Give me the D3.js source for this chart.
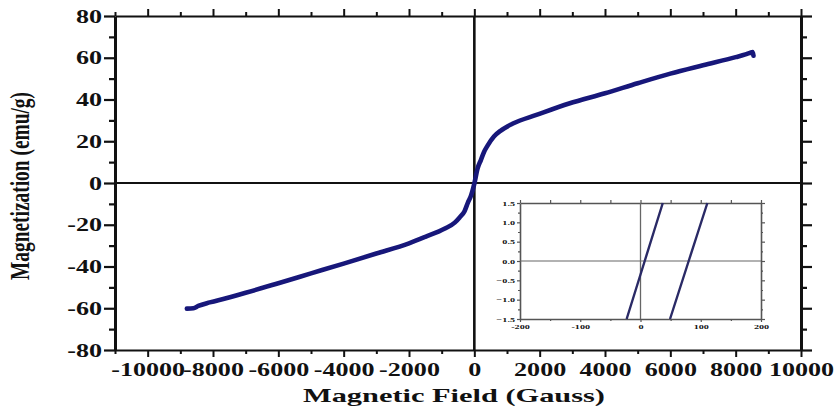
<!DOCTYPE html>
<html>
<head>
<meta charset="utf-8">
<script src="https://cdn.jsdelivr.net/npm/d3@7"></script>
<style>
  html, body { margin: 0; padding: 0; background: #fff; }
  svg { display: block; }
  text { font-family: "Liberation Serif", "Times New Roman", serif; font-weight: bold; fill: #111; }
</style>
</head>
<body>
<svg id="chart" width="835" height="410"></svg>
<script>
// Hysteresis loop M(H): field in Gauss, magnetization in emu/g
const field = [-8800, -8600, -8450, -8100, -7600, -7000, -6000, -5000, -4000, -3000, -2000, -1500,
  -900, -600, -450, -300, -200, -100, 0, 100, 200, 300, 400, 600, 800, 1200, 1900, 2900,
  4000, 5000, 6000, 7000, 8000, 8300, 8450, 8520, 8545];
const magnetization = [-60.2, -60.0, -58.9, -57.2, -55.2, -52.6, -48.0, -43.3, -38.6, -33.8, -28.9, -25.8,
  -21.8, -19.0, -16.5, -13.5, -9.5, -6.0, -0.3, 7.0, 11.0, 15.0, 17.8, 22.3, 25.0, 28.6, 32.6, 38.1,
  43.0, 47.8, 52.4, 56.4, 60.3, 61.6, 62.4, 62.7, 61.0];

// Low-field detail (inset): the two branches of the loop near the origin
const insetFieldA = [-23, -8, 7, 22, 37];
const insetMagA = [-1.5, -0.75, 0, 0.75, 1.5];
const insetFieldB = [49, 64.5, 80, 95.5, 111];
const insetMagB = [-1.5, -0.75, 0, 0.75, 1.5];

// Tick values
const xMajorTicks = [-10000, -8000, -6000, -4000, -2000, 0, 2000, 4000, 6000, 8000, 10000];
const xMinorTicks = [-11000, -9000, -7000, -5000, -3000, -1000, 1000, 3000, 5000, 7000, 9000];
const yMajorTicks = [-80, -60, -40, -20, 0, 20, 40, 60, 80];
const yMinorTicks = [-70, -50, -30, -10, 10, 30, 50, 70];
const insetXTicks = [-200, -100, 0, 100, 200];
const insetXMinor = [-150, -50, 50, 150];
const insetYTicks = [-1.5, -1.0, -0.5, 0.0, 0.5, 1.0, 1.5];
const insetYMinor = [-1.25, -0.75, -0.25, 0.25, 0.75, 1.25];

const xTitle = "Magnetic Field (Gauss)";
const yTitle = "Magnetization (emu/g)";

const svg = d3.select("#chart");
const STRETCH = 1.45;        // wide lettering
const lineColor = "#17177a";

const plot = { left: 115, right: 801, top: 16, bottom: 350 };
const x = d3.scaleLinear().domain([-11000, 10000]).range([plot.left, plot.right]);
const y = d3.scaleLinear().domain([-80, 80]).range([plot.bottom, plot.top]);

// ---------- axes with ticks on all four sides ----------
function styleAxis(g, width) {
  g.select(".domain").attr("stroke", "#111").attr("stroke-width", width);
  g.selectAll(".tick line").attr("stroke", "#111").attr("stroke-width", 2);
}
const fmt = d => String(d);

// bottom
const gB = svg.append("g").attr("transform", `translate(0,${plot.bottom})`)
  .call(d3.axisBottom(x).tickValues(xMajorTicks).tickSize(7).tickPadding(4).tickFormat(fmt).tickSizeOuter(0));
styleAxis(gB, 2.2);
gB.selectAll(".tick text")
  .attr("font-size", 18).attr("y", 26).attr("dy", 0)
  .attr("transform", `scale(${STRETCH},1)`)
  .style("font-family", '"Liberation Serif", serif').style("font-weight", "bold").attr("fill", "#111");
svg.append("g").attr("transform", `translate(0,${plot.bottom})`)
  .call(d3.axisBottom(x).tickValues(xMinorTicks).tickSize(4).tickFormat("").tickSizeOuter(0))
  .call(g => { g.select(".domain").remove(); g.selectAll("line").attr("stroke", "#111").attr("stroke-width", 2); });

// top
const gT = svg.append("g").attr("transform", `translate(0,${plot.top})`)
  .call(d3.axisTop(x).tickValues(xMajorTicks).tickSize(7).tickFormat("").tickSizeOuter(0));
styleAxis(gT, 2);
svg.append("g").attr("transform", `translate(0,${plot.top})`)
  .call(d3.axisTop(x).tickValues(xMinorTicks).tickSize(4).tickFormat("").tickSizeOuter(0))
  .call(g => { g.select(".domain").remove(); g.selectAll("line").attr("stroke", "#111").attr("stroke-width", 2); });

// left
const gL = svg.append("g").attr("transform", `translate(${plot.left},0)`)
  .call(d3.axisLeft(y).tickValues(yMajorTicks).tickSize(11).tickFormat(fmt).tickSizeOuter(0));
styleAxis(gL, 3);
gL.selectAll(".tick line").attr("stroke-width", 2.2);
gL.selectAll(".tick text")
  .attr("font-size", 18).attr("x", -13 / STRETCH).attr("dy", "0.34em")
  .attr("transform", `scale(${STRETCH},1)`)
  .style("font-family", '"Liberation Serif", serif').style("font-weight", "bold").attr("fill", "#111");
svg.append("g").attr("transform", `translate(${plot.left},0)`)
  .call(d3.axisLeft(y).tickValues(yMinorTicks).tickSize(6).tickFormat("").tickSizeOuter(0))
  .call(g => { g.select(".domain").remove(); g.selectAll("line").attr("stroke", "#111").attr("stroke-width", 2.2); });

// right
const gR = svg.append("g").attr("transform", `translate(${plot.right},0)`)
  .call(d3.axisRight(y).tickValues(yMajorTicks).tickSize(11).tickFormat("").tickSizeOuter(0));
styleAxis(gR, 3);
gR.selectAll(".tick line").attr("stroke-width", 2.2);
svg.append("g").attr("transform", `translate(${plot.right},0)`)
  .call(d3.axisRight(y).tickValues(yMinorTicks).tickSize(6).tickFormat("").tickSizeOuter(0))
  .call(g => { g.select(".domain").remove(); g.selectAll("line").attr("stroke", "#111").attr("stroke-width", 2.2); });

// zero lines
svg.append("line").attr("x1", x(0)).attr("x2", x(0)).attr("y1", plot.top).attr("y2", plot.bottom)
  .attr("stroke", "#111").attr("stroke-width", 2.6);
svg.append("line").attr("x1", plot.left).attr("x2", plot.right).attr("y1", y(0)).attr("y2", y(0))
  .attr("stroke", "#111").attr("stroke-width", 1.8);

// ---------- loop ----------
const loop = d3.zip(field, magnetization);
const line = d3.line().x(d => x(d[0])).y(d => y(d[1])).curve(d3.curveMonotoneX);
svg.append("path").datum(loop).attr("d", line)
  .attr("fill", "none").attr("stroke", lineColor).attr("stroke-width", 4.6)
  .attr("stroke-linejoin", "round").attr("stroke-linecap", "round");

// ---------- axis titles ----------
svg.append("text").text(xTitle)
  .attr("x", 454).attr("y", 402).attr("text-anchor", "middle")
  .attr("font-size", 19.5).attr("textLength", 302).attr("lengthAdjust", "spacingAndGlyphs");
svg.append("text").text(yTitle)
  .attr("transform", "translate(29,186) rotate(-90) scale(1,1.4)")
  .attr("text-anchor", "middle").attr("font-size", 19.5)
  .attr("textLength", 188).attr("lengthAdjust", "spacingAndGlyphs");

// ---------- inset ----------
const inset = { left: 520, right: 761, top: 203, bottom: 319 };
const ix = d3.scaleLinear().domain([-200, 200]).range([inset.left, inset.right]);
const iy = d3.scaleLinear().domain([-1.5, 1.5]).range([inset.bottom, inset.top]);
const ig = svg.append("g");
ig.append("rect").attr("x", inset.left).attr("y", inset.top)
  .attr("width", inset.right - inset.left).attr("height", inset.bottom - inset.top).attr("fill", "#fff");

const insetStroke = "#555";
function insetAxis(axis, tx, ty, major, minor, labels, size) {
  const g = ig.append("g").attr("transform", `translate(${tx},${ty})`)
    .call(axis.scale(major.scale).tickValues(major.values).tickSize(size).tickSizeOuter(0)
      .tickFormat(labels ? labels : ""));
  g.select(".domain").attr("stroke", insetStroke).attr("stroke-width", 1.6);
  g.selectAll(".tick line").attr("stroke", insetStroke).attr("stroke-width", 1.2);
  return g;
}
const gIB = ig.append("g").attr("transform", `translate(0,${inset.bottom})`)
  .call(d3.axisBottom(ix).tickValues(insetXTicks).tickSize(3).tickPadding(1).tickSizeOuter(0).tickFormat(d => String(d)));
const gIT = ig.append("g").attr("transform", `translate(0,${inset.top})`)
  .call(d3.axisTop(ix).tickValues(insetXTicks.concat(insetXMinor)).tickSize(3).tickSizeOuter(0).tickFormat(""));
const gIL = ig.append("g").attr("transform", `translate(${inset.left},0)`)
  .call(d3.axisLeft(iy).tickValues(insetYTicks).tickSize(3).tickPadding(2).tickSizeOuter(0).tickFormat(d3.format(".1f")));
const gIR = ig.append("g").attr("transform", `translate(${inset.right},0)`)
  .call(d3.axisRight(iy).tickValues(insetYTicks).tickSize(4).tickSizeOuter(0).tickFormat(""));
const gIBm = ig.append("g").attr("transform", `translate(0,${inset.bottom})`)
  .call(d3.axisBottom(ix).tickValues(insetXMinor).tickSize(2).tickSizeOuter(0).tickFormat(""));
const gILm = ig.append("g").attr("transform", `translate(${inset.left},0)`)
  .call(d3.axisLeft(iy).tickValues(insetYMinor).tickSize(2).tickSizeOuter(0).tickFormat(""));
const gIRm = ig.append("g").attr("transform", `translate(${inset.right},0)`)
  .call(d3.axisRight(iy).tickValues(insetYMinor).tickSize(2).tickSizeOuter(0).tickFormat(""));
[gIB, gIT, gIL, gIR, gIBm, gILm, gIRm].forEach(g => {
  g.select(".domain").attr("stroke", insetStroke).attr("stroke-width", 1.6);
  g.selectAll(".tick line").attr("stroke", insetStroke).attr("stroke-width", 1.2);
});
[gIBm, gILm, gIRm].forEach(g => g.select(".domain").remove());
ig.selectAll(".tick text")
  .attr("font-size", 7).attr("transform", `scale(${STRETCH},1)`)
  .style("font-family", '"Liberation Serif", serif').style("font-weight", "bold").attr("fill", "#444");
gIL.selectAll(".tick text").attr("x", -5 / STRETCH);
gIB.selectAll(".tick text").attr("y", 5);

ig.append("line").attr("x1", ix(0)).attr("x2", ix(0)).attr("y1", inset.top).attr("y2", inset.bottom)
  .attr("stroke", "#666").attr("stroke-width", 1.3);
ig.append("line").attr("x1", inset.left).attr("x2", inset.right).attr("y1", iy(0)).attr("y2", iy(0))
  .attr("stroke", "#666").attr("stroke-width", 1.1);

const iline = d3.line().x(d => ix(d[0])).y(d => iy(d[1]));
[[insetFieldA, insetMagA], [insetFieldB, insetMagB]].forEach(([f, m]) => {
  ig.append("path").datum(d3.zip(f, m)).attr("d", iline)
    .attr("fill", "none").attr("stroke", "#2a2a66").attr("stroke-width", 2.4);
});
</script>
</body>
</html>
